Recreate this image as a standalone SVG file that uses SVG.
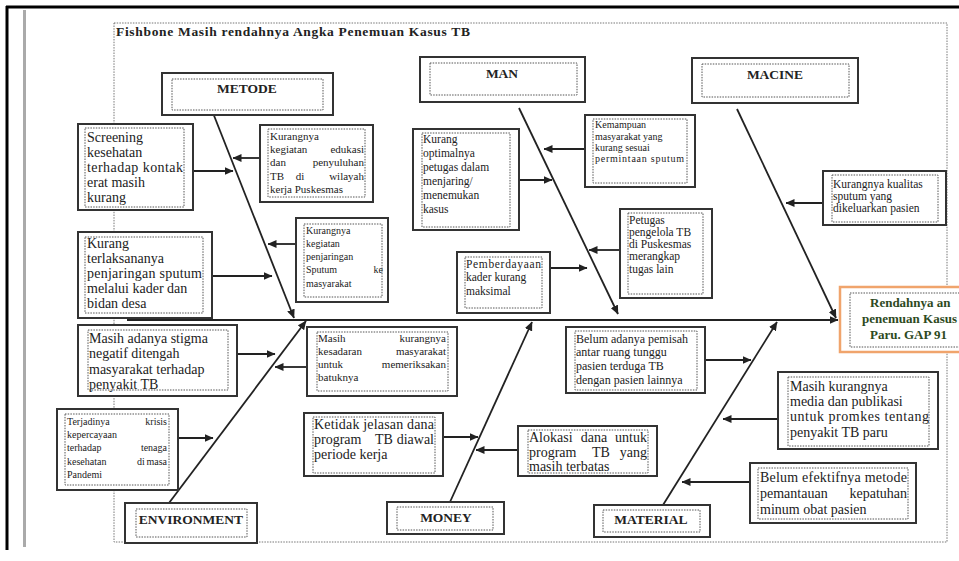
<svg xmlns="http://www.w3.org/2000/svg" width="959" height="561" viewBox="0 0 959 561">
<defs>
<marker id="ah" markerWidth="9" markerHeight="8" refX="8.5" refY="4" orient="auto" markerUnits="userSpaceOnUse">
<path d="M0,0 L9,4 L0,8 z" fill="#222"/>
</marker>
<style>
.ob{fill:#fff;stroke:#333;stroke-width:2}
.ib{fill:none;stroke:#555;stroke-width:1;stroke-dasharray:1.5 1.2}
text{font-family:"Liberation Serif","Times New Roman",serif;fill:#222}
.s10{font-size:10px}
.s11{font-size:11px}
.s115{font-size:11.5px}
.s12{font-size:12px}
.m{font-size:14px}
.e{text-anchor:end}
.c{text-anchor:middle}
.h{font-size:13.5px;font-weight:bold;text-anchor:middle}
.hd{font-size:13px;font-weight:bold;fill:#2e4a1e}
.ar{stroke:#222;stroke-width:1.8;fill:none;marker-end:url(#ah)}
.fr{fill:none;stroke:#777;stroke-width:1;stroke-dasharray:1.5 1.2}
</style>
</defs>
<rect x="0" y="0" width="959" height="561" fill="#fff"/>
<g id="page">
<line x1="6" y1="7" x2="959" y2="7" stroke="#000" stroke-width="3"/>
<line x1="7" y1="6" x2="7" y2="550" stroke="#000" stroke-width="3"/>
<line x1="24.5" y1="10" x2="24.5" y2="547" stroke="#aaa" stroke-width="3"/>
<rect class="fr" x="114" y="23" width="833" height="519"/>
<text x="116" y="36" font-size="13.5" font-weight="bold" textLength="354" lengthAdjust="spacing">Fishbone Masih rendahnya Angka Penemuan Kasus TB</text>
</g>

<g id="connectors">
<line class="ar" x1="127" y1="320" x2="838" y2="320"/>
<line class="ar" x1="213" y1="113" x2="294" y2="318"/>
<line class="ar" x1="519" y1="108" x2="618" y2="314"/>
<line class="ar" x1="737" y1="109" x2="836" y2="318"/>
<line class="ar" x1="169" y1="503" x2="306" y2="321"/>
<line class="ar" x1="450" y1="502" x2="532" y2="322"/>
<line class="ar" x1="663" y1="505" x2="777" y2="322"/>
<line class="ar" x1="193" y1="171" x2="233" y2="171"/>
<line class="ar" x1="260" y1="158" x2="233" y2="158"/>
<line class="ar" x1="212" y1="276" x2="272" y2="276"/>
<line class="ar" x1="296" y1="244" x2="268" y2="244"/>
<line class="ar" x1="237" y1="354" x2="275" y2="354"/>
<line class="ar" x1="307" y1="367" x2="275" y2="367"/>
<line class="ar" x1="178" y1="438" x2="213" y2="438"/>
<line class="ar" x1="443" y1="437" x2="478" y2="437"/>
<line class="ar" x1="518" y1="450" x2="476" y2="450"/>
<line class="ar" x1="519" y1="180" x2="552" y2="180"/>
<line class="ar" x1="585" y1="149" x2="544" y2="149"/>
<line class="ar" x1="620" y1="250" x2="589" y2="250"/>
<line class="ar" x1="550" y1="268" x2="587" y2="268"/>
<line class="ar" x1="823" y1="203" x2="786" y2="203"/>
<line class="ar" x1="705" y1="360" x2="751" y2="360"/>
<line class="ar" x1="778" y1="419" x2="723" y2="419"/>
<line class="ar" x1="750" y1="482" x2="682" y2="482"/>
</g>

<g id="head">
<rect x="840" y="287" width="130" height="65" fill="#fff" stroke="#f0a46c" stroke-width="2.5"/>
<rect class="ib" x="850" y="293" width="120" height="54"/>
<text class="hd" x="870" y="307">Rendahnya an</text>
<text class="hd" x="862" y="323">penemuan Kasus</text>
<text class="hd" x="870" y="339">Paru. GAP 91</text>
</g>

<g id="metode">
<rect class="ob" x="162" y="73" width="171" height="42"/>
<rect class="ib" x="172" y="79" width="151" height="31"/>
<text class="h" x="247" y="93">METODE</text>
</g>
<g id="man">
<rect class="ob" x="420" y="57" width="165" height="45"/>
<rect class="ib" x="430" y="63" width="147" height="32"/>
<text class="h" x="502" y="78">MAN</text>
</g>
<g id="macine">
<rect class="ob" x="692" y="58" width="166" height="45"/>
<rect class="ib" x="702" y="64" width="147" height="33"/>
<text class="h" x="775" y="79">MACINE</text>
</g>
<g id="environment">
<rect class="ob" x="125" y="503" width="132" height="40"/>
<rect class="ib" x="136" y="509" width="111" height="28"/>
<text class="h" x="191" y="524">ENVIRONMENT</text>
</g>
<g id="money">
<rect class="ob" x="387" y="502" width="117" height="32"/>
<rect class="ib" x="397" y="507" width="96" height="23"/>
<text class="h" x="446" y="522">MONEY</text>
</g>
<g id="material">
<rect class="ob" x="594" y="505" width="116" height="32"/>
<rect class="ib" x="603" y="510" width="97" height="22"/>
<text class="h" x="651" y="524">MATERIAL</text>
</g>

<g id="c1">
<rect class="ob" x="78" y="124" width="115" height="86"/>
<rect class="ib" x="85" y="128" width="99" height="79"/>
<text class="m" x="87" y="142">Screening</text>
<text class="m" x="87" y="157">kesehatan</text>
<text class="m" x="87" y="172" textLength="96" lengthAdjust="spacing">terhadap kontak</text>
<text class="m" x="87" y="187">erat masih</text>
<text class="m" x="87" y="202">kurang</text>
</g>
<g id="c2">
<rect class="ob" x="260" y="125" width="113" height="77"/>
<rect class="ib" x="268" y="129" width="97" height="68"/>
<text class="s11" x="270" y="140">Kurangnya</text>
<text class="s11"><tspan x="270" y="153">kegiatan</tspan><tspan class="e" x="364" y="153">edukasi</tspan></text>
<text class="s11"><tspan x="270" y="166">dan</tspan><tspan class="e" x="364" y="166">penyuluhan</tspan></text>
<text class="s11"><tspan x="270" y="180">TB</tspan><tspan class="c" x="300" y="180">di</tspan><tspan class="e" x="364" y="180">wilayah</tspan></text>
<text class="s11" x="270" y="193">kerja Puskesmas</text>
</g>
<g id="c3">
<rect class="ob" x="78" y="232" width="134" height="86"/>
<rect class="ib" x="85" y="237" width="118" height="76"/>
<text class="m" x="87" y="248">Kurang</text>
<text class="m" x="87" y="263">terlaksananya</text>
<text class="m" x="87" y="278" textLength="115" lengthAdjust="spacing">penjaringan sputum</text>
<text class="m" x="87" y="293">melalui kader dan</text>
<text class="m" x="87" y="308">bidan desa</text>
</g>
<g id="c4">
<rect class="ob" x="296" y="218" width="92" height="84"/>
<rect class="ib" x="304" y="224" width="78" height="73"/>
<text class="s10" x="306" y="234">Kurangnya</text>
<text class="s10" x="306" y="247">kegiatan</text>
<text class="s10" x="306" y="260">penjaringan</text>
<text class="s10"><tspan x="306" y="273">Sputum</tspan><tspan class="e" x="383" y="273">ke</tspan></text>
<text class="s10" x="306" y="287">masyarakat</text>
</g>
<g id="c5">
<rect class="ob" x="78" y="325" width="159" height="71"/>
<rect class="ib" x="88" y="330" width="140" height="60"/>
<text class="m" x="89" y="343">Masih adanya stigma</text>
<text class="m" x="89" y="358">negatif ditengah</text>
<text class="m" x="89" y="374">masyarakat terhadap</text>
<text class="m" x="89" y="389">penyakit TB</text>
</g>
<g id="c6">
<rect class="ob" x="307" y="327" width="150" height="69"/>
<rect class="ib" x="317" y="332" width="131" height="59"/>
<text class="s11"><tspan x="318" y="342">Masih</tspan><tspan class="e" x="446" y="342">kurangnya</tspan></text>
<text class="s11"><tspan x="318" y="355">kesadaran</tspan><tspan class="e" x="446" y="355">masyarakat</tspan></text>
<text class="s11"><tspan x="318" y="368">untuk</tspan><tspan class="e" x="446" y="368">memeriksakan</tspan></text>
<text class="s11" x="318" y="381">batuknya</text>
</g>
<g id="c7">
<rect class="ob" x="57" y="409" width="121" height="81"/>
<rect class="ib" x="65" y="414" width="104" height="71"/>
<text class="s10"><tspan x="67" y="425">Terjadinya</tspan><tspan class="e" x="167" y="425">krisis</tspan></text>
<text class="s10" x="67" y="438">kepercayaan</text>
<text class="s10"><tspan x="67" y="451">terhadap</tspan><tspan class="e" x="167" y="451">tenaga</tspan></text>
<text class="s10"><tspan x="67" y="465">kesehatan</tspan><tspan class="c" x="141" y="465">di</tspan><tspan class="e" x="167" y="465">masa</tspan></text>
<text class="s10" x="67" y="478">Pandemi</text>
</g>
<g id="c8">
<rect class="ob" x="304" y="413" width="139" height="63"/>
<rect class="ib" x="313" y="417" width="122" height="56"/>
<text class="m" x="314" y="429" textLength="120" lengthAdjust="spacing">Ketidak jelasan dana</text>
<text class="m"><tspan x="314" y="444">program</tspan><tspan class="c" x="384" y="444">TB</tspan><tspan class="e" x="434" y="444">diawal</tspan></text>
<text class="m" x="314" y="459">periode kerja</text>
</g>
<g id="c9">
<rect class="ob" x="518" y="426" width="139" height="50"/>
<rect class="ib" x="528" y="430" width="120" height="43"/>
<text class="m"><tspan x="529" y="442">Alokasi</tspan><tspan class="c" x="594" y="442">dana</tspan><tspan class="e" x="647" y="442">untuk</tspan></text>
<text class="m"><tspan x="529" y="457">program</tspan><tspan class="c" x="601" y="457">TB</tspan><tspan class="e" x="647" y="457">yang</tspan></text>
<text class="m" x="529" y="471">masih terbatas</text>
</g>
<g id="c10">
<rect class="ob" x="413" y="129" width="106" height="101"/>
<rect class="ib" x="422" y="133" width="88" height="94"/>
<text class="s115" x="423" y="143">Kurang</text>
<text class="s115" x="423" y="157">optimalnya</text>
<text class="s115" x="423" y="171">petugas dalam</text>
<text class="s115" x="423" y="185">menjaring/</text>
<text class="s115" x="423" y="199">menemukan</text>
<text class="s115" x="423" y="213">kasus</text>
</g>
<g id="c11">
<rect class="ob" x="585" y="115" width="110" height="72"/>
<rect class="ib" x="593" y="119" width="94" height="64"/>
<text class="s10" x="595" y="128">Kemampuan</text>
<text class="s10" x="595" y="140">masyarakat yang</text>
<text class="s10" x="595" y="151">kurang sesuai</text>
<text class="s10" x="595" y="162" textLength="89" lengthAdjust="spacing">permintaan sputum</text>
</g>
<g id="c12">
<rect class="ob" x="620" y="209" width="92" height="89"/>
<rect class="ib" x="628" y="213" width="75" height="81"/>
<text class="s115" x="629" y="224">Petugas</text>
<text class="s115" x="629" y="236">pengelola TB</text>
<text class="s115" x="629" y="248">di Puskesmas</text>
<text class="s115" x="629" y="260">merangkap</text>
<text class="s115" x="629" y="273">tugas lain</text>
</g>
<g id="c13">
<rect class="ob" x="457" y="252" width="93" height="61"/>
<rect class="ib" x="465" y="257" width="77" height="51"/>
<text class="s115" x="466" y="268" textLength="75" lengthAdjust="spacing">Pemberdayaan</text>
<text class="s115" x="466" y="281">kader kurang</text>
<text class="s115" x="466" y="295">maksimal</text>
</g>
<g id="c14">
<rect class="ob" x="823" y="171" width="123" height="54"/>
<rect class="ib" x="832" y="175" width="106" height="47"/>
<text class="s115" x="833" y="188">Kurangnya kualitas</text>
<text class="s115" x="833" y="200">sputum yang</text>
<text class="s115" x="833" y="212">dikeluarkan pasien</text>
</g>
<g id="c15">
<rect class="ob" x="566" y="327" width="139" height="66"/>
<rect class="ib" x="575" y="331" width="122" height="59"/>
<text class="s12" x="576" y="343">Belum adanya pemisah</text>
<text class="s12" x="576" y="356">antar ruang tunggu</text>
<text class="s12" x="576" y="370">pasien terduga TB</text>
<text class="s12" x="576" y="384">dengan pasien lainnya</text>
</g>
<g id="c16">
<rect class="ob" x="778" y="372" width="160" height="77"/>
<rect class="ib" x="788" y="377" width="141" height="69"/>
<text class="m" x="790" y="391">Masih kurangnya</text>
<text class="m" x="790" y="406">media dan publikasi</text>
<text class="m" x="790" y="421" textLength="139" lengthAdjust="spacing">untuk promkes tentang</text>
<text class="m" x="790" y="437">penyakit TB paru</text>
</g>
<g id="c17">
<rect class="ob" x="750" y="463" width="166" height="60"/>
<rect class="ib" x="758" y="468" width="150" height="51"/>
<text class="m" x="760" y="482" textLength="147" lengthAdjust="spacing">Belum efektifnya metode</text>
<text class="m"><tspan x="760" y="498">pemantauan</tspan><tspan class="e" x="907" y="498">kepatuhan</tspan></text>
<text class="m" x="760" y="514">minum obat pasien</text>
</g>
</svg>
